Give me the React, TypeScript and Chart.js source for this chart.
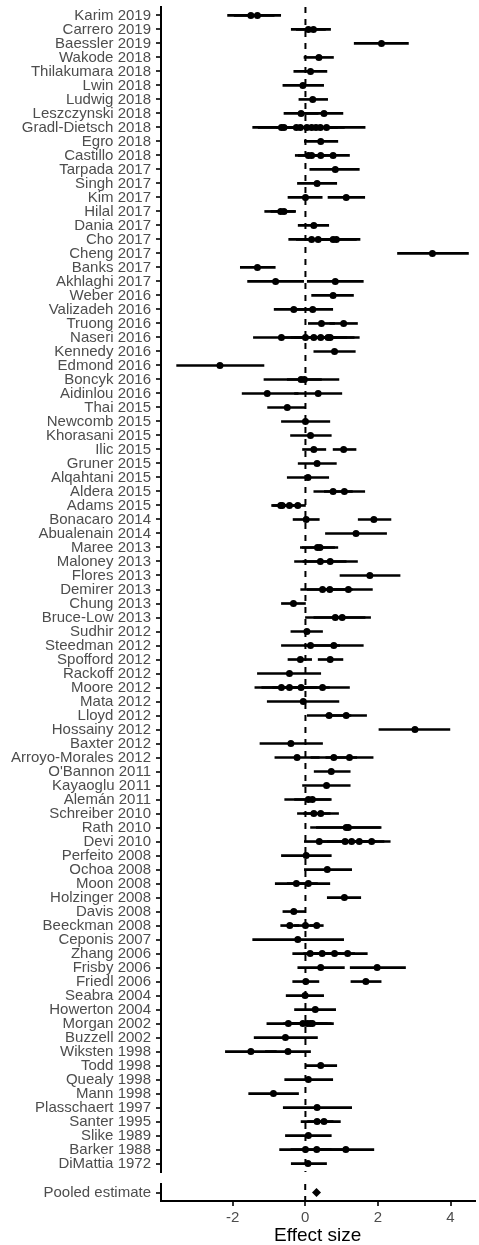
import React, { useEffect, useRef } from "react";
import { Chart, registerables } from "chart.js";
Chart.register(...registerables);

const studies = [
  "Karim 2019", "Carrero 2019", "Baessler 2019", "Wakode 2018", "Thilakumara 2018", "Lwin 2018", "Ludwig 2018",
  "Leszczynski 2018", "Gradl-Dietsch 2018", "Egro 2018", "Castillo 2018", "Tarpada 2017", "Singh 2017", "Kim 2017",
  "Hilal 2017", "Dania 2017", "Cho 2017", "Cheng 2017", "Banks 2017", "Akhlaghi 2017", "Weber 2016", "Valizadeh 2016",
  "Truong 2016", "Naseri 2016", "Kennedy 2016", "Edmond 2016", "Boncyk 2016", "Aidinlou 2016", "Thai 2015",
  "Newcomb 2015", "Khorasani 2015", "Ilic 2015", "Gruner 2015", "Alqahtani 2015", "Aldera 2015", "Adams 2015",
  "Bonacaro 2014", "Abualenain 2014", "Maree 2013", "Maloney 2013", "Flores 2013", "Demirer 2013", "Chung 2013",
  "Bruce-Low 2013", "Sudhir 2012", "Steedman 2012", "Spofford 2012", "Rackoff 2012", "Moore 2012", "Mata 2012",
  "Lloyd 2012", "Hossainy 2012", "Baxter 2012", "Arroyo-Morales 2012", "O'Bannon 2011", "Kayaoglu 2011",
  "Alemán 2011", "Schreiber 2010", "Rath 2010", "Devi 2010", "Perfeito 2008", "Ochoa 2008", "Moon 2008",
  "Holzinger 2008", "Davis 2008", "Beeckman 2008", "Ceponis 2007", "Zhang 2006", "Frisby 2006", "Friedl 2006",
  "Seabra 2004", "Howerton 2004", "Morgan 2002", "Buzzell 2002", "Wiksten 1998", "Todd 1998", "Quealy 1998",
  "Mann 1998", "Plasschaert 1997", "Santer 1995", "Slike 1989", "Barker 1988", "DiMattia 1972",
];

// effect sizes per study (one entry per outcome)
const effects: number[][] = [
  [-1.5, -1.32], [0.08, 0.22], [2.09], [0.37], [0.14], [-0.07], [0.2],
  [-0.12, 0.51], [-0.66, -0.59, -0.25, -0.14, 0.04, 0.17, 0.29, 0.41, 0.58], [0.42], [0.08, 0.17, 0.42, 0.76], [0.82], [0.32], [0.0, 1.12],
  [-0.68, -0.59], [0.23], [0.17, 0.35, 0.76, 0.85], [3.49], [-1.32], [-0.82, 0.82], [0.76], [-0.32, 0.2],
  [0.44, 1.05], [-0.66, 0.0, 0.23, 0.42, 0.62, 0.68], [0.8], [-2.35], [-0.12, -0.03], [-1.05, 0.35], [-0.5],
  [0.0], [0.14], [0.23, 1.05], [0.32], [0.07], [0.76, 1.07], [-0.68, -0.64, -0.44, -0.21],
  [0.02, 1.88], [1.39], [0.33, 0.4], [0.41, 0.68], [1.77], [0.47, 0.67, 1.18], [-0.33],
  [0.82, 1.01], [0.04], [0.14, 0.78], [-0.14, 0.68], [-0.44], [-0.66, -0.44, -0.12, 0.47], [-0.06],
  [0.65, 1.12], [3.01], [-0.4], [-0.23, 0.78, 1.21], [0.71], [0.58],
  [0.08, 0.19], [0.23, 0.42], [1.12, 1.18], [0.38, 1.09, 1.27, 1.48, 1.82], [0.02], [0.6], [-0.25, 0.08],
  [1.07], [-0.32], [-0.43, 0.0, 0.31], [-0.21], [0.13, 0.46, 0.8, 1.16], [0.42, 1.97], [0.01, 1.66],
  [-0.01], [0.27], [-0.47, -0.07, 0.05, 0.13, 0.19], [-0.55], [-1.5, -0.48], [0.42], [0.08],
  [-0.88], [0.32], [0.32, 0.51], [0.08], [0.0, 0.31, 1.11], [0.07],
];

// lower confidence limits, same shape as effects
const lowers: number[][] = [
  [-2.14, -1.96], [-0.39, -0.25], [1.34], [-0.04], [-0.32], [-0.62], [-0.18],
  [-0.59, -0.01], [-1.45, -1.3, -0.8, -0.7, -0.5, -0.4, -0.3, -0.25, -0.48], [-0.03], [-0.28, -0.2, 0.02, 0.31], [0.12], [-0.22], [-0.48, 0.62],
  [-1.12, -0.95], [-0.2], [-0.46, -0.25, 0.05, 0.2], [2.53], [-1.79], [-1.59, 0.05], [0.17], [-0.86, -0.35],
  [0.08, 0.67], [-1.43, -0.6, -0.4, -0.3, -0.1, -0.12], [0.23], [-3.54], [-1.14, -0.5], [-1.74, -0.3], [-1.04],
  [-0.66], [-0.41], [-0.08, 0.76], [-0.2], [-0.5], [0.23, 0.52], [-0.93, -0.9, -0.68, -0.42],
  [-0.34, 1.45], [0.55], [-0.14, -0.09], [-0.3, -0.07], [0.95], [-0.13, 0.05, 0.52], [-0.66],
  [0.0, 0.23], [-0.4], [-0.66, -0.03], [-0.48, 0.35], [-1.32], [-1.39, -1.2, -0.9, -0.27], [-1.05],
  [0.05, 0.56], [2.02], [-1.25], [-0.84, 0.15, 0.56], [0.24], [-0.08],
  [-0.57, -0.3], [-0.22, -0.05], [0.14, 0.3], [-0.03, 0.4, 0.6, 0.8, 1.31], [-0.66], [-0.03], [-0.83, -0.5],
  [0.6], [-0.62], [-0.68, -0.3, 0.13], [-1.45], [-0.35, -0.05, 0.25, 0.62], [-0.21, 1.23], [-0.35, 1.25],
  [-0.53], [-0.3], [-1.06, -0.6, -0.5, -0.45, -0.39], [-1.41], [-2.2, -1.1], [0.02], [-0.57],
  [-1.56], [-0.61], [-0.12, 0.06], [-0.55], [-0.71, -0.4, 0.34], [-0.39],
];

// upper confidence limits, same shape as effects
const uppers: number[][] = [
  [-0.86, -0.68], [0.55, 0.69], [2.83], [0.77], [0.59], [0.5], [0.61],
  [0.35, 1.03], [0.13, 0.12, 0.3, 0.42, 0.58, 0.74, 0.88, 1.07, 1.64], [0.89], [0.44, 0.54, 0.82, 1.21], [1.48], [0.86], [0.46, 1.63],
  [-0.3, -0.27], [0.64], [0.8, 0.95, 1.4, 1.5], [4.48], [-0.83], [-0.05, 1.59], [1.32], [0.22, 0.75],
  [0.8, 1.43], [0.11, 0.6, 0.86, 1.14, 1.34, 1.48], [1.37], [-1.14], [0.92, 0.44], [-0.2, 1.0], [0.0],
  [0.67], [0.71], [0.56, 1.39], [0.85], [0.64], [1.29, 1.63], [-0.43, -0.38, -0.2, 0.0],
  [0.38, 2.35], [2.23], [0.8, 0.89], [1.12, 1.43], [2.6], [1.07, 1.29, 1.84], [0.0],
  [1.64, 1.79], [0.47], [0.94, 1.59], [0.17, 1.03], [0.42], [0.07, 0.32, 0.66, 1.21], [0.92],
  [1.25, 1.68], [3.97], [0.47], [0.38, 1.41, 1.86], [1.23], [1.23],
  [0.71, 0.68], [0.68, 0.91], [2.08, 2.05], [0.79, 1.78, 1.94, 2.16, 2.33], [0.71], [1.27], [0.33, 0.67],
  [1.52], [0.0], [-0.18, 0.3, 0.49], [1.05], [0.61, 0.97, 1.35, 1.7], [1.07, 2.75], [0.37, 2.08],
  [0.5], [0.83], [0.12, 0.46, 0.6, 0.71, 0.77], [0.33], [-0.8, 0.14], [0.86], [0.75],
  [-0.19], [1.27], [0.76, 0.96], [0.71], [0.71, 1.02, 1.88], [0.58],
];

const pooledLabels = ["Pooled estimate"];
const pooledEffects = [0.31];
const xTicks = [-2, 0, 2, 4];
const xTitle = "Effect size";

const X_MIN = -3.97;
const X_MAX = 4.66;
const FONT = "'Liberation Sans', Arial, sans-serif";
const TICK_COLOR = "#4d4d4d";

function yAxis(labels: string[], n: number) {
  return {
    type: "linear" as const,
    reverse: true,
    offset: false,
    min: -0.6,
    max: n - 1 + 0.6,
    afterBuildTicks: (scale: any) => {
      scale.ticks = labels.map((_, i) => ({ value: i }));
    },
    afterFit: (scale: any) => {
      scale.width = 161;
      scale.paddingTop = 0;
      scale.paddingBottom = 0;
    },
    ticks: {
      autoSkip: false,
      padding: 5,
      color: TICK_COLOR,
      font: { family: FONT, size: 15 },
      callback: (v: any) => labels[v] ?? "",
    },
    grid: { offset: false, drawOnChartArea: false, drawTicks: true, tickLength: 5, color: "#333", lineWidth: 2 },
    border: { display: true, color: "#000", width: 2 },
  };
}

function TopChart() {
  const ref = useRef<HTMLCanvasElement>(null);
  useEffect(() => {
    const ciData: any[] = [];
    const ptData: any[] = [];
    studies.forEach((_, i) => {
      effects[i].forEach((e, j) => {
        ciData.push({ y: i, x: [lowers[i][j], uppers[i][j]] });
        ptData.push({ y: i, x: e });
      });
    });
    const n = studies.length;
    const chart = new Chart(ref.current!, {
      type: "bar",
      data: {
        datasets: [
          {
            type: "line",
            data: [{ x: 0, y: -0.6 }, { x: 0, y: n - 1 + 0.6 }],
            borderColor: "#000",
            borderWidth: 2,
            borderDash: [6, 6],
            pointRadius: 0,
            fill: false,
          } as any,
          {
            type: "bar",
            data: ciData,
            backgroundColor: "#000",
            borderWidth: 0,
            barThickness: 2,
          } as any,
          {
            type: "scatter",
            data: ptData,
            backgroundColor: "#000",
            borderWidth: 0,
            pointRadius: 3.5,
          } as any,
        ],
      },
      options: {
        indexAxis: "y",
        responsive: false,
        animation: false,
        events: [],
        layout: { padding: { top: 7, bottom: 1, left: 0, right: 0 } },
        plugins: { legend: { display: false }, tooltip: { enabled: false } },
        scales: {
          x: { type: "linear", display: false, offset: false, min: X_MIN, max: X_MAX },
          y: yAxis(studies, n) as any,
        },
      },
    });
    return () => chart.destroy();
  }, []);
  return <canvas ref={ref} width={479} height={1176} style={{ display: "block", width: 479, height: 1176 }} />;
}

function BottomChart() {
  const ref = useRef<HTMLCanvasElement>(null);
  useEffect(() => {
    const chart = new Chart(ref.current!, {
      type: "scatter",
      data: {
        datasets: [
          {
            type: "line",
            data: [{ x: 0, y: -0.6 }, { x: 0, y: 0.6 }],
            borderColor: "#000",
            borderWidth: 2,
            borderDash: [6, 6],
            pointRadius: 0,
            fill: false,
          } as any,
          {
            type: "scatter",
            data: pooledEffects.map((e, i) => ({ x: e, y: i })),
            backgroundColor: "#000",
            borderWidth: 0,
            pointStyle: "rectRot",
            pointRadius: 4.5,
          } as any,
        ],
      },
      options: {
        responsive: false,
        animation: false,
        events: [],
        layout: { padding: { top: 8, bottom: 0, left: 0, right: 0 } },
        plugins: { legend: { display: false }, tooltip: { enabled: false } },
        scales: {
          x: {
            type: "linear",
            min: X_MIN,
            max: X_MAX,
            afterBuildTicks: (scale: any) => {
              scale.ticks = xTicks.map((v) => ({ value: v }));
            },
            afterFit: (scale: any) => {
              scale.height = 44;
              scale.paddingLeft = 0;
              scale.paddingRight = 0;
            },
            ticks: {
              padding: 3,
              color: TICK_COLOR,
              font: { family: FONT, size: 15 },
              maxRotation: 0,
            },
            grid: { drawOnChartArea: false, drawTicks: true, tickLength: 5, color: "#333", lineWidth: 2 },
            border: { display: true, color: "#000", width: 2 },
            title: {
              display: true,
              text: xTitle,
              color: "#000",
              font: { family: FONT, size: 19, lineHeight: 1 },
              padding: { top: 0, bottom: 0 },
            },
          },
          y: yAxis(pooledLabels, pooledLabels.length) as any,
        },
      },
    });
    return () => chart.destroy();
  }, []);
  return <canvas ref={ref} width={479} height={69} style={{ display: "block", width: 479, height: 69 }} />;
}

export default function App() {
  return (
    <div
      style={{
        position: "absolute",
        left: 0,
        top: 0,
        width: 479,
        height: 1245,
        background: "#fff",
        overflow: "hidden",
      }}
    >
      <TopChart />
      <BottomChart />
    </div>
  );
}
